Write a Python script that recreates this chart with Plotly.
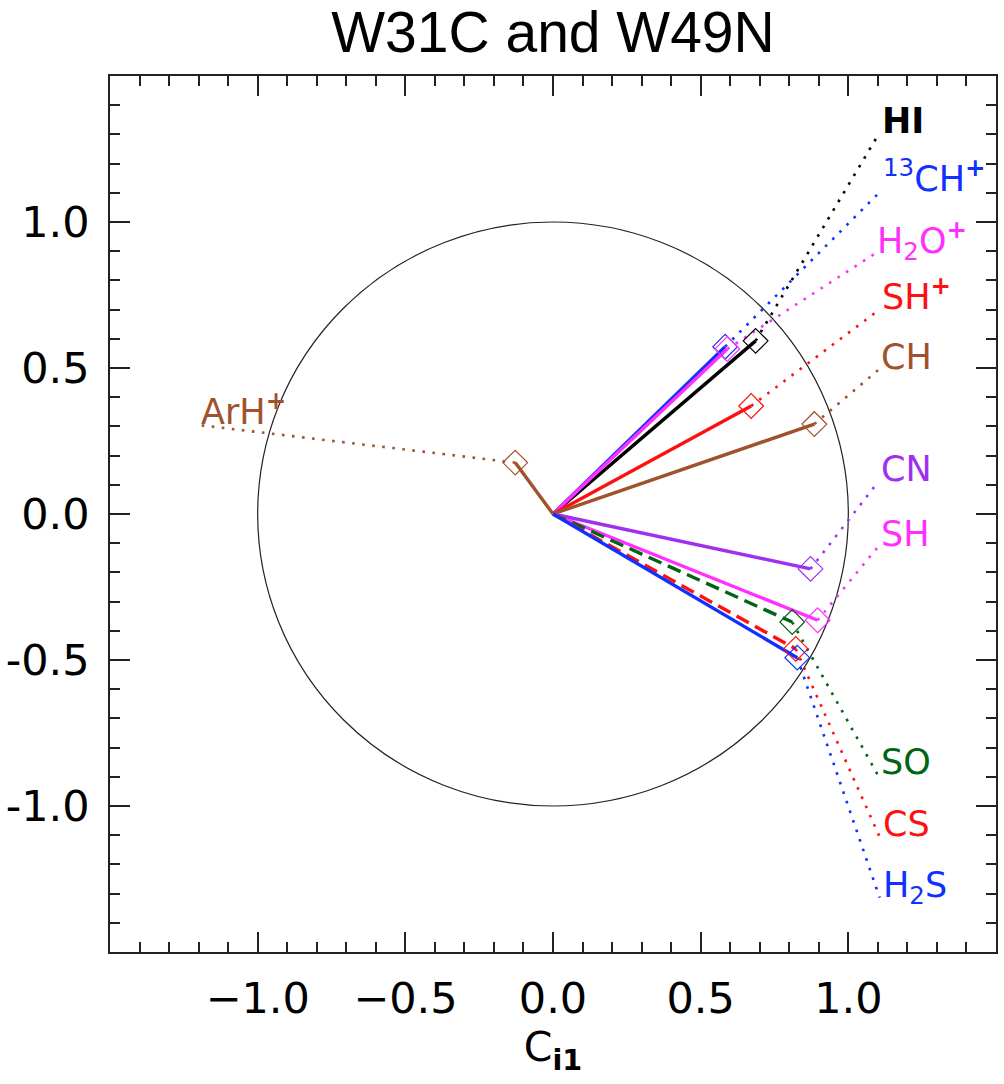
import numpy as np
import plotly.graph_objects as go

# Loadings of each species on the first two principal components
species = ["HI", "13CH+", "H2O+", "SH+", "CH", "ArH+", "CN", "SH", "SO", "CS", "H2S"]
label_text = [
    "<b>HI</b>",
    "<sup>13</sup>CH<sup><b>+</b></sup>",
    "H<sub>2</sub>O<sup><b>+</b></sup>",
    "SH<sup><b>+</b></sup>",
    "CH",
    "ArH<sup><b>+</b></sup>",
    "CN",
    "SH",
    "SO",
    "CS",
    "H<sub>2</sub>S",
]
c_i1 = [0.686, 0.583, 0.590, 0.671, 0.885, -0.128, 0.872, 0.896, 0.810, 0.822, 0.827]
c_i2 = [0.593, 0.573, 0.565, 0.370, 0.308, 0.176, -0.188, -0.364, -0.370, -0.462, -0.492]

# Where each species name is written (end of its dotted leader)
label_x = [1.104, 1.106, 1.086, 1.104, 1.101, -1.202, 1.101, 1.100, 1.100, 1.106, 1.106]
label_y = [1.303, 1.102, 0.889, 0.699, 0.493, 0.305, 0.110, -0.113, -0.894, -1.106, -1.314]

colors = ["#000000", "#1030ff", "#ff30ff", "#ff1010", "#a0522d", "#a0522d",
          "#a030f0", "#ff30ff", "#006414", "#ff1010", "#1030ff"]
styles = ["solid", "solid", "solid", "solid", "solid", "solid",
          "solid", "solid", "dash", "dash", "solid"]
has_sub = [False, False, True, False, False, False, False, False, False, False, True]

tick_vals = [-1.0, -0.5, 0.0, 0.5, 1.0]
x_tick_text = ["\u22121.0", "\u22120.5", "0.0", "0.5", "1.0"]
y_tick_text = ["-1.0", "-0.5", "0.0", "0.5", "1.0"]
minor_vals = [v for v in np.round(np.arange(-1.4, 1.41, 0.1), 2) if abs(v * 2 - round(v * 2)) > 1e-6]

fig = go.Figure()

# dotted leaders from each loading to its label
for i, name in enumerate(species):
    fig.add_trace(go.Scatter(
        x=[c_i1[i], label_x[i]], y=[c_i2[i], label_y[i]],
        mode="lines", line=dict(color=colors[i], width=2.6, dash="2.6px,7.5px"),
        hoverinfo="skip", showlegend=False,
    ))

# loading vectors from the origin
for i, name in enumerate(species):
    dash = "14px,7px" if styles[i] == "dash" else "solid"
    fig.add_trace(go.Scatter(
        x=[0, c_i1[i]], y=[0, c_i2[i]],
        mode="lines", line=dict(color=colors[i], width=3.4, dash=dash),
        name=name, showlegend=False,
    ))

# open diamonds at the vector tips
for i, name in enumerate(species):
    fig.add_trace(go.Scatter(
        x=[c_i1[i]], y=[c_i2[i]], mode="markers",
        marker=dict(symbol="diamond-open", size=19, color=colors[i],
                    line=dict(width=1.2, color=colors[i])),
        name=name, showlegend=False,
    ))

# unit circle
fig.add_shape(type="circle", xref="x", yref="y", x0=-1, y0=-1, x1=1, y1=1,
              line=dict(color="#222222", width=1.2), layer="below")

for i, name in enumerate(species):
    fig.add_annotation(
        x=label_x[i], y=label_y[i], xref="x", yref="y",
        text=label_text[i], showarrow=False,
        xanchor="left", yanchor="bottom",
        xshift=1, yshift=-14 if has_sub[i] else -9,
        font=dict(family="DejaVu Sans", size=35, color=colors[i]),
    )

axis_common = dict(
    showgrid=False, zeroline=False,
    showline=True, linecolor="#222222", linewidth=1.6, mirror="ticks",
    ticks="inside", ticklen=20, tickwidth=1.5, tickcolor="#222222",
    tickfont=dict(family="DejaVu Sans", size=43, color="black"),
    range=[-1.5, 1.5], tickmode="array", tickvals=tick_vals,
    minor=dict(tickmode="array", tickvals=minor_vals, ticks="inside",
               ticklen=10, tickwidth=1.5, tickcolor="#222222"),
)

fig.update_layout(
    width=1004, height=1084,
    margin=dict(l=110, r=6, t=76, b=132),
    paper_bgcolor="white", plot_bgcolor="white",
    title=dict(text="W31C and W49N", x=0.5, xref="paper", xanchor="center",
               y=0.989, yref="container", yanchor="top",
               font=dict(family="Liberation Sans", size=57, color="black")),
    xaxis=dict(**axis_common, ticktext=x_tick_text, ticklabelstandoff=8,
               title=dict(text="C<sub><b>i1</b></sub>", standoff=10,
                          font=dict(family="DejaVu Sans", size=41, color="black"))),
    yaxis=dict(**axis_common, ticktext=y_tick_text, ticklabelstandoff=10),
)

fig.write_html("out.html")
